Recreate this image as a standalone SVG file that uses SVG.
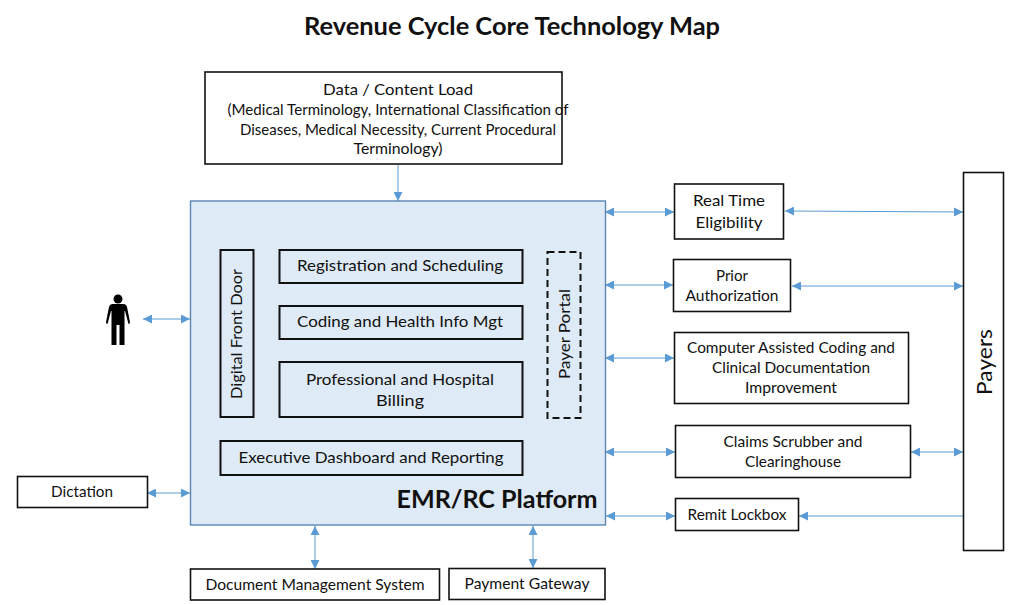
<svg xmlns="http://www.w3.org/2000/svg" width="1024" height="605" viewBox="0 0 1024 605">
<style>
text{font-family:"Lato","Open Sans","Liberation Sans",sans-serif;font-size:16px;fill:#111;text-anchor:middle}
.b{fill:#fff;stroke:#111;stroke-width:1.6}
.i{fill:none;stroke:#111;stroke-width:2}
.c{stroke:#5b9bd5;stroke-width:1;fill:none;marker-start:url(#a);marker-end:url(#a)}
.s{marker-start:none}
</style>
<defs><marker id="a" viewBox="0 0 10 10" refX="10" refY="5" markerUnits="userSpaceOnUse" markerWidth="9" markerHeight="9" orient="auto-start-reverse"><path d="M0 0L10 5L0 10Z" fill="#5b9bd5"/></marker></defs>
<rect width="1024" height="605" fill="#fff"/>
<text x="512" y="35" font-weight="700" style="font-size:25px" textLength="416" lengthAdjust="spacingAndGlyphs">Revenue Cycle Core Technology Map</text>
<g id="connectors">
<path class="c s" d="M398 165V201"/>
<path class="c" d="M143 319H190"/>
<path class="c" d="M605 212H674"/>
<path class="c" d="M785 211L963 212"/>
<path class="c" d="M605 285H673"/>
<path class="c" d="M792 286H963"/>
<path class="c" d="M605 358H674"/>
<path class="c" d="M605 452H675"/>
<path class="c" d="M911 452H963"/>
<path class="c" d="M606 516H675"/>
<path class="c s" d="M963 516H799"/>
<path class="c" d="M147 493H190"/>
<path class="c" d="M315 526V569"/>
<path class="c" d="M533 526V568"/>
</g>
<g id="platform"><rect x="190.500" y="201" width="415" height="324" fill="#deeaf6" stroke="#5b86b5" stroke-width="1.400"/>
<text x="497" y="508" font-weight="700" style="font-size:25px" textLength="201" lengthAdjust="spacingAndGlyphs">EMR/RC Platform</text></g>
<g id="data"><rect class="b" x="205" y="72" width="357" height="92"/>
<text x="398" y="95" textLength="150" lengthAdjust="spacingAndGlyphs">Data / Content Load</text>
<text x="398" y="115" style="font-size:15px" textLength="341" lengthAdjust="spacingAndGlyphs">(Medical Terminology, International Classification of</text>
<text x="398" y="135" style="font-size:15px" textLength="316" lengthAdjust="spacingAndGlyphs">Diseases, Medical Necessity, Current Procedural</text>
<text x="398" y="154" style="font-size:15px" textLength="89" lengthAdjust="spacingAndGlyphs">Terminology)</text></g>
<g id="door"><rect class="i" x="220.500" y="250" width="33" height="167"/>
<text transform="translate(242 334) rotate(-90)" textLength="130" lengthAdjust="spacingAndGlyphs">Digital Front Door</text></g>
<g id="reg"><rect class="i" x="279.500" y="250" width="243" height="33"/><text x="400" y="271" textLength="206" lengthAdjust="spacingAndGlyphs">Registration and Scheduling</text></g>
<g id="coding"><rect class="i" x="279.500" y="306" width="243" height="33"/><text x="400" y="327" textLength="206" lengthAdjust="spacingAndGlyphs">Coding and Health Info Mgt</text></g>
<g id="billing"><rect class="i" x="279.500" y="362" width="243" height="55"/><text x="400" y="385" textLength="188" lengthAdjust="spacingAndGlyphs">Professional and Hospital</text><text x="400" y="406" textLength="48" lengthAdjust="spacingAndGlyphs">Billing</text></g>
<g id="portal"><rect class="i" x="547.500" y="252" width="33" height="166" stroke-dasharray="7 4"/>
<text transform="translate(570 334) rotate(-90)" textLength="90" lengthAdjust="spacingAndGlyphs">Payer Portal</text></g>
<g id="exec"><rect class="i" x="220.500" y="441" width="302" height="34"/><text x="371" y="463" textLength="265" lengthAdjust="spacingAndGlyphs">Executive Dashboard and Reporting</text></g>
<g id="person"><circle cx="118" cy="299" r="4.500"/><path d="M112.500 304H123.500Q126 304 127 307L130 322Q130 324 128.500 324L125 311H124.500V345H119.500V325H116.500V345H111.500V311H111L107.500 324Q106 324 106 322L109 307Q110 304 112.500 304Z"/></g>
<g id="eligibility"><rect class="b" x="674.500" y="184" width="109" height="55"/><text x="729" y="206" textLength="72" lengthAdjust="spacingAndGlyphs">Real Time</text><text x="729" y="228" textLength="67" lengthAdjust="spacingAndGlyphs">Eligibility</text></g>
<g id="prior"><rect class="b" x="673.500" y="259.500" width="117" height="52"/><text x="732" y="281" textLength="32" lengthAdjust="spacingAndGlyphs">Prior</text><text x="732" y="301" textLength="93" lengthAdjust="spacingAndGlyphs">Authorization</text></g>
<g id="cac"><rect class="b" x="674.500" y="332.500" width="234" height="71"/><text x="791" y="353" textLength="208" lengthAdjust="spacingAndGlyphs">Computer Assisted Coding and</text><text x="791" y="373" textLength="158" lengthAdjust="spacingAndGlyphs">Clinical Documentation</text><text x="791" y="393" textLength="92" lengthAdjust="spacingAndGlyphs">Improvement</text></g>
<g id="claims"><rect class="b" x="675.500" y="425.500" width="235" height="52"/><text x="793" y="447" textLength="139" lengthAdjust="spacingAndGlyphs">Claims Scrubber and</text><text x="793" y="467" textLength="96" lengthAdjust="spacingAndGlyphs">Clearinghouse</text></g>
<g id="remit"><rect class="b" x="675.500" y="498.500" width="123" height="32"/><text x="737" y="520" textLength="99" lengthAdjust="spacingAndGlyphs">Remit Lockbox</text></g>
<g id="payers"><rect class="b" x="963.500" y="172.500" width="40" height="378"/><text transform="translate(992 362) rotate(-90)" style="font-size:21px" textLength="66" lengthAdjust="spacingAndGlyphs">Payers</text></g>
<g id="dictation"><rect class="b" x="17.500" y="476.500" width="130" height="31"/><text x="82" y="497" textLength="62" lengthAdjust="spacingAndGlyphs">Dictation</text></g>
<g id="dms"><rect class="b" x="190.500" y="569" width="249" height="31"/><text x="315" y="590" textLength="219" lengthAdjust="spacingAndGlyphs">Document Management System</text></g>
<g id="gateway"><rect class="b" x="449" y="568.500" width="156" height="31"/><text x="527" y="589" textLength="125" lengthAdjust="spacingAndGlyphs">Payment Gateway</text></g>
</svg>
